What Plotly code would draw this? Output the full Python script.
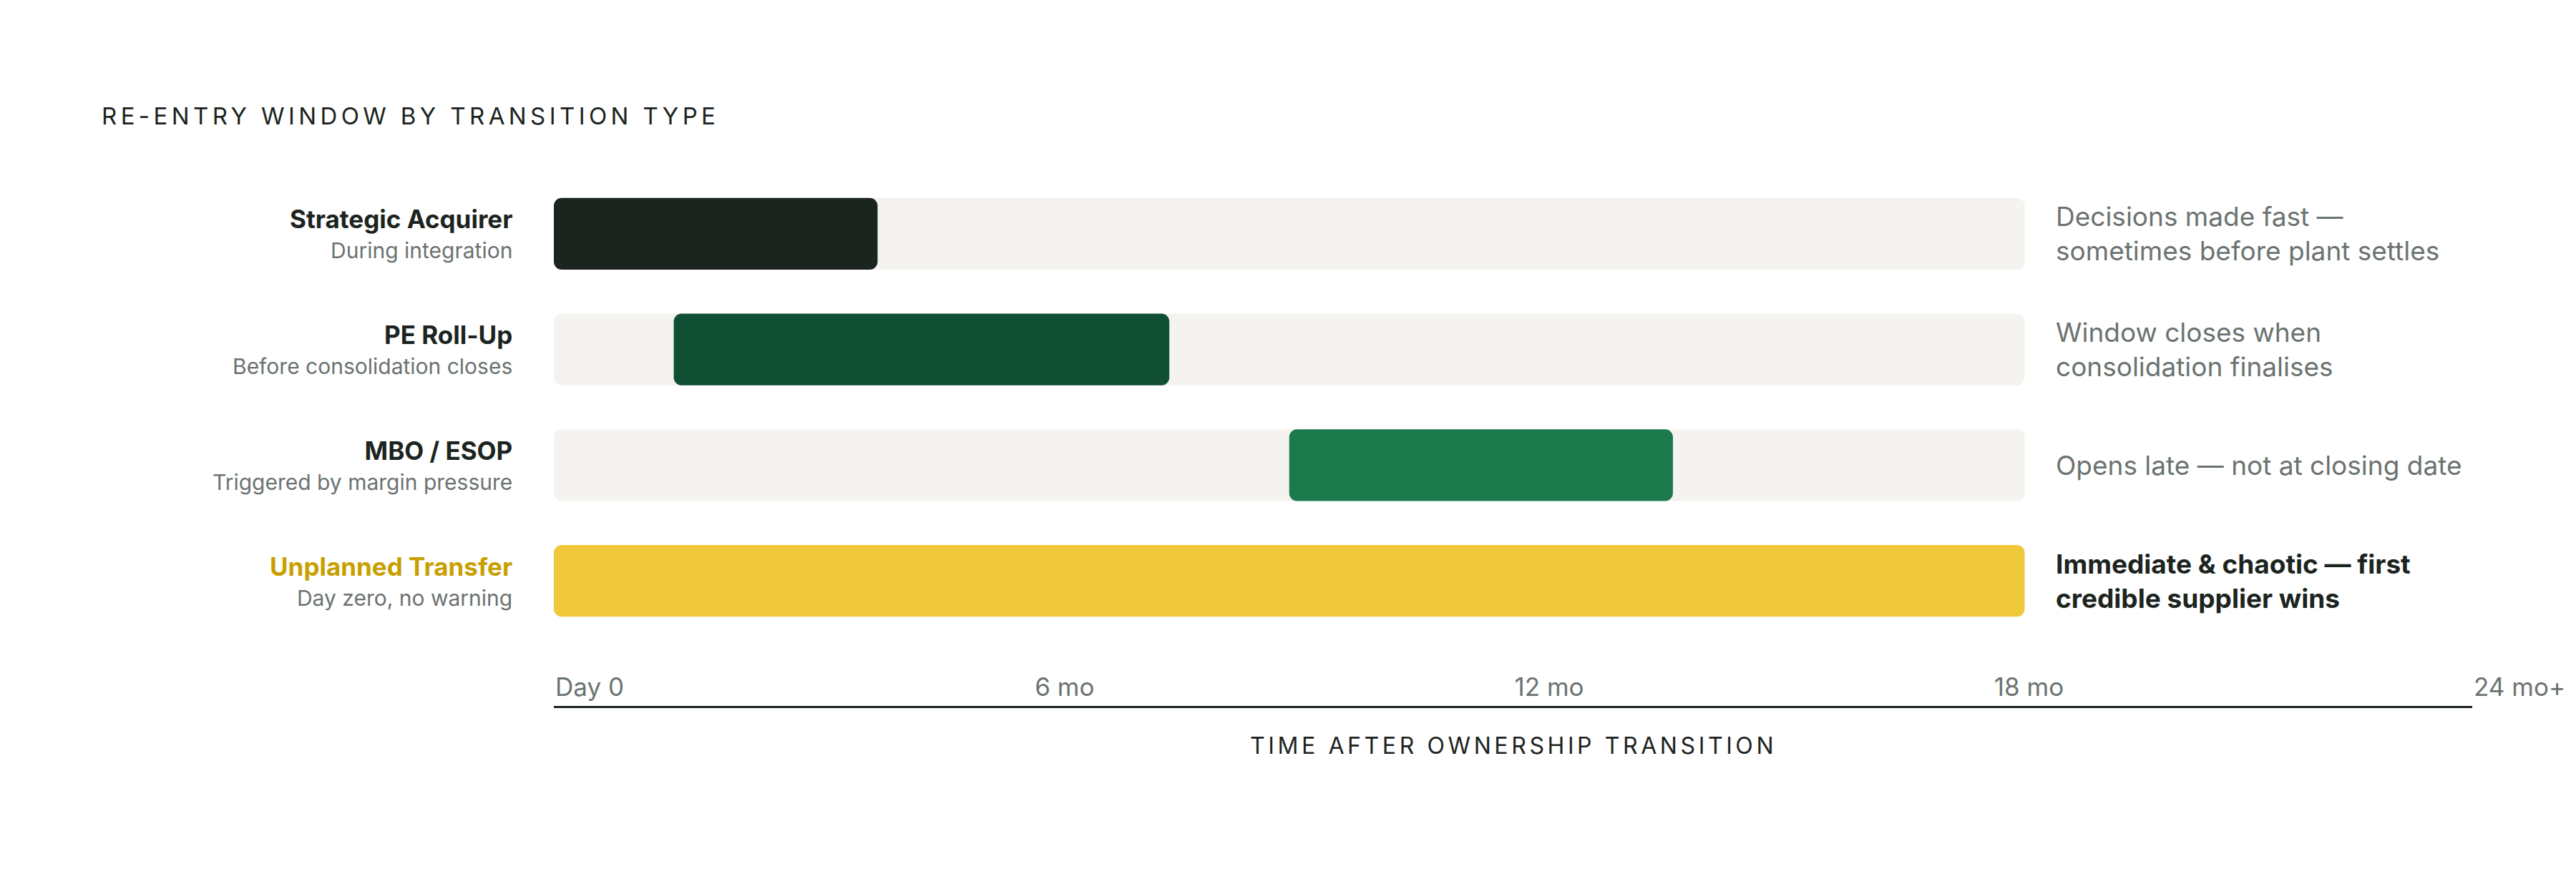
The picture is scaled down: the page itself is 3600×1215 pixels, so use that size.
import plotly.graph_objects as go

# Re-entry window per transition type, in months after the ownership change
categories = ["Strategic Acquirer", "PE Roll-Up", "MBO / ESOP", "Unplanned Transfer"]
subtitles = ["During integration", "Before consolidation closes",
             "Triggered by margin pressure", "Day zero, no warning"]
window_start = [0, 1.5, 9.2, 0]
window_end = [4.05, 7.7, 14.0, 18.4]
track_end = 18.4
notes = ["Decisions made fast —<br>sometimes before plant settles",
         "Window closes when<br>consolidation finalises",
         "Opens late — not at closing date",
         "<b>Immediate & chaotic — first<br>credible supplier wins</b>"]
tick_vals = [0, 6, 12, 18, 24]
tick_text = ["Day 0", "6 mo", "12 mo", "18 mo", "24 mo+"]

bar_colors = ["#1c2420", "#104f33", "#1b7a4c", "#f0c83c"]
label_colors = ["#1c2420", "#1c2420", "#1c2420", "#c99f00"]
note_colors = ["#6b7370", "#6b7370", "#6b7370", "#1c2420"]
TRACK = "#f4f3ef"
DARK = "#1c2420"
GREY = "#6b7370"
FONT = "Inter"
BAR_W = 0.62
RADIUS = 11

# The page body keeps an 8px margin, so the figure is sized to fit inside it
W, H, PAD = 3584, 1199, 8


def px(x):
    return (x - PAD) / W


def py(y):
    return 1 - (y - PAD) / H


fig = go.Figure()

# Grey tracks first, then the coloured windows on top
fig.add_trace(go.Bar(
    y=categories, x=[track_end] * len(categories), base=0, orientation="h",
    width=BAR_W, marker=dict(color=TRACK, line_width=0, cornerradius=RADIUS),
    hoverinfo="skip"))
fig.add_trace(go.Bar(
    y=categories, x=[e - s for s, e in zip(window_start, window_end)],
    base=window_start, orientation="h", width=BAR_W,
    marker=dict(color=bar_colors, line_width=0, cornerradius=RADIUS),
    hoverinfo="skip"))

# Row labels on the left and notes on the right
for cat, sub, lc, note, nc in zip(categories, subtitles, label_colors,
                                  notes, note_colors):
    fig.add_annotation(
        xref="paper", x=px(718), yref="y", y=cat, xanchor="right",
        yanchor="middle", align="right", showarrow=False,
        text=(f"<span style='font-size:35px;color:{lc}'><b>{cat}</b></span>"
              f"<br><span style='font-size:30px'>{sub}</span>"),
        font=dict(family=FONT, size=32, color=GREY))
    fig.add_annotation(
        xref="x", x=track_end, yref="y", y=cat, xanchor="left", xshift=42,
        yanchor="middle", align="left", showarrow=False, text=note,
        font=dict(family=FONT, size=37, color=nc))

# Axis title sits below the axis line, centred on the time scale
fig.add_annotation(
    xref="x", x=12, yref="paper", y=py(1042), xanchor="center",
    yanchor="middle", showarrow=False,
    text="<span style='letter-spacing:4.6px'>TIME AFTER OWNERSHIP TRANSITION</span>",
    font=dict(family=FONT, size=32, color=DARK))

fig.update_layout(
    width=W, height=H, margin=dict(l=0, r=0, t=0, b=0, autoexpand=False),
    paper_bgcolor="white", plot_bgcolor="rgba(0,0,0,0)",
    barmode="overlay", showlegend=False,
    font=dict(family=FONT, color=DARK),
    title=dict(text="<span style='letter-spacing:5.4px'>"
                    "RE-ENTRY WINDOW BY TRANSITION TYPE</span>",
               x=px(142), xanchor="left", y=py(162), yanchor="middle",
               font=dict(family=FONT, size=33, color=DARK)),
)

fig.update_xaxes(
    domain=[px(774), px(3455)], range=[0, 24], automargin=False,
    anchor="free", position=py(988), side="top",
    tickvals=tick_vals, ticktext=tick_text,
    ticklabelposition="outside right", ticks="outside", ticklen=4,
    tickcolor="rgba(0,0,0,0)",
    tickfont=dict(family=FONT, size=35, color=GREY),
    showline=True, linewidth=3, linecolor=DARK, showgrid=False,
    zeroline=False, fixedrange=True,
)
fig.update_yaxes(
    domain=[py(893), py(246)], range=[3.5, -0.5], automargin=False,
    type="category", categoryorder="array", categoryarray=categories,
    visible=False, fixedrange=True,
)

fig.write_html("out.html")
